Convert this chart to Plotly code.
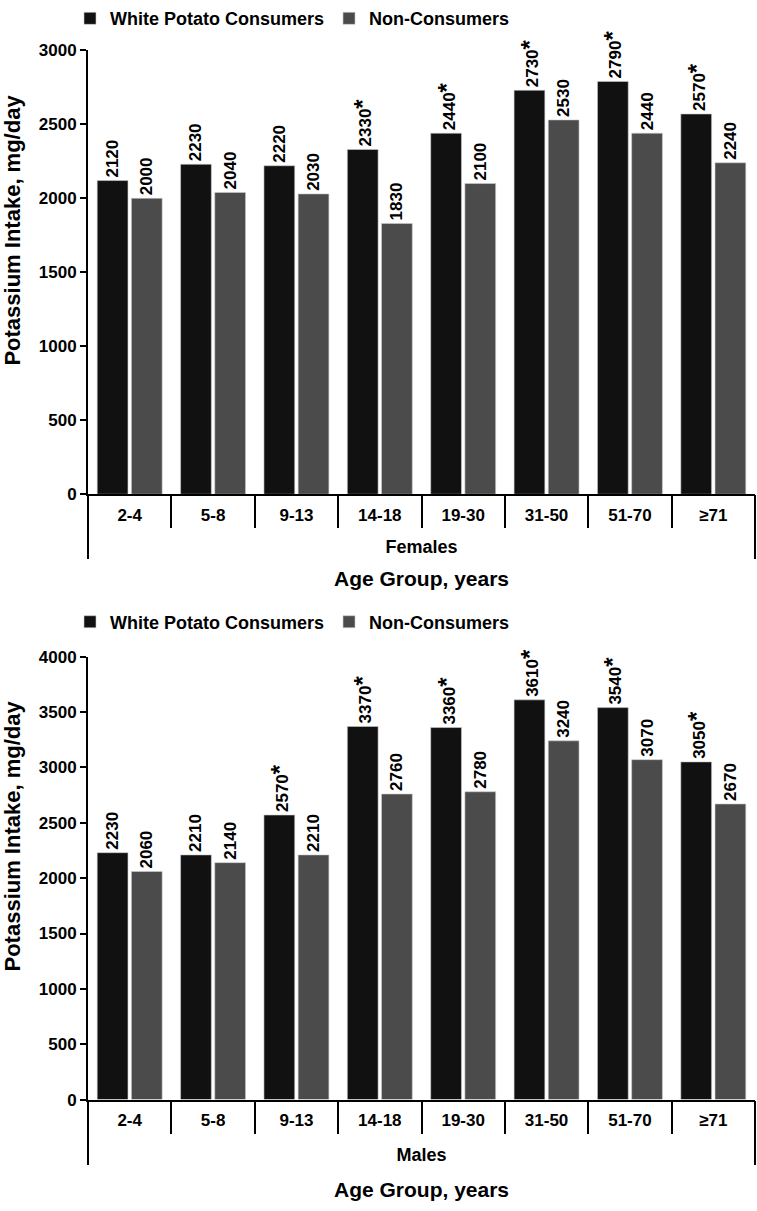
import plotly.graph_objects as go

age_groups = ["2-4", "5-8", "9-13", "14-18", "19-30", "31-50", "51-70", "≥71"]
female_consumers = [2120, 2230, 2220, 2330, 2440, 2730, 2790, 2570]
female_nonconsumers = [2000, 2040, 2030, 1830, 2100, 2530, 2440, 2240]
female_signif = [False, False, False, True, True, True, True, True]
male_consumers = [2230, 2210, 2570, 3370, 3360, 3610, 3540, 3050]
male_nonconsumers = [2060, 2140, 2210, 2760, 2780, 3240, 3070, 2670]
male_signif = [False, False, True, True, True, True, True, True]

FONT = "Liberation Sans, Arial, sans-serif"
C_BLACK = "#111111"
C_GRAY = "#4b4b4b"
NCAT = len(age_groups)


def lab(v, s):
    t = f"{v}"
    if s:
        t += "<span style='font-size:24px'>*</span>"
    return t


fig = go.Figure()

panels = [
    ("Females", female_consumers, female_nonconsumers, female_signif, "x", "y", "legend", "x3"),
    ("Males", male_consumers, male_nonconsumers, male_signif, "x2", "y2", "legend2", "x4"),
]
for sex, cons, non, sig, xa, ya, lg, xo in panels:
    fig.add_trace(go.Bar(
        x=age_groups, y=cons, name="White Potato Consumers", marker_color=C_BLACK,
        marker_line=dict(color="#cccccc", width=0.6),
        text=[lab(v, s) for v, s in zip(cons, sig)], textposition="outside",
        constraintext="none",
        textangle=-90, textfont=dict(family=FONT, size=17, color="black", weight="bold"),
        cliponaxis=False, xaxis=xa, yaxis=ya, legend=lg))
    fig.add_trace(go.Bar(
        x=age_groups, y=non, name="Non-Consumers", marker_color=C_GRAY,
        marker_line=dict(color="#cccccc", width=0.6),
        text=[str(v) for v in non], textposition="outside",
        constraintext="none",
        textangle=-90, textfont=dict(family=FONT, size=17, color="black", weight="bold"),
        cliponaxis=False, xaxis=xa, yaxis=ya, legend=lg))
    # empty helper trace so the overlay axis (long end ticks) gets drawn
    fig.add_trace(go.Scatter(x=[], y=[], xaxis=xo, yaxis=ya, showlegend=False,
                             hoverinfo="skip", mode="markers"))

XDOM = [88 / 757, 755 / 757]


def xmain(sex, anchor, spacing):
    return dict(
        domain=XDOM, anchor=anchor, type="category", range=[-0.5, NCAT - 0.5],
        showline=True, linecolor="black", linewidth=2,
        ticks="outside", tickson="boundaries", ticklen=32, tickwidth=2, tickcolor="black",
        ticklabelstandoff=4,
        tickfont=dict(family=FONT, size=17, color="black", weight="bold"),
        title=dict(text=f"<span style='font-size:18px'>{sex}</span><br>"
                        f"<span style='font-size:21px'>Age Group, years</span>",
                   font=dict(family=FONT, size=spacing, color="black", weight="bold"),
                   standoff=12),
        showgrid=False, zeroline=False,
    )


def xends(over, anchor):
    return dict(
        domain=XDOM, anchor=anchor, overlaying=over, side="bottom", type="linear",
        range=[-0.5, NCAT - 0.5], tickvals=[-0.5, NCAT - 0.5], ticks="outside",
        ticklen=64, tickwidth=2, tickcolor="black", showticklabels=False,
        showline=False, showgrid=False, zeroline=False,
    )


ycommon = dict(
    showline=True, linecolor="black", linewidth=2, ticks="outside", ticklen=6,
    tickwidth=2, tickcolor="black", showgrid=False, zeroline=False,
    tickfont=dict(family=FONT, size=17, color="black", weight="bold"),
    dtick=500,
)

legfont = dict(family=FONT, size=18, color="black", weight="bold")
ytitle = "Potassium Intake, mg/day"
fig.update_layout(
    width=757, height=1211,
    margin=dict(l=0, r=0, t=0, b=0),
    paper_bgcolor="white", plot_bgcolor="white",
    barmode="group", bargap=0.18, bargroupgap=0.1,
    xaxis=xmain("Females", "y", 25),
    xaxis2=xmain("Males", "y2", 28),
    xaxis3=xends("x", "y"),
    xaxis4=xends("x2", "y2"),
    yaxis=dict(domain=[1 - 493 / 1211, 1 - 42 / 1211], anchor="x", range=[0, 3000], **ycommon),
    yaxis2=dict(domain=[1 - 1108 / 1211, 1 - 658 / 1211], anchor="x2", range=[0, 4000], **ycommon),
    legend=dict(orientation="h", x=70 / 757, y=1 + 9 / 1211, xanchor="left", yanchor="top",
                font=legfont, itemwidth=30, tracegroupgap=0, bgcolor="rgba(0,0,0,0)"),
    legend2=dict(orientation="h", x=70 / 757, y=1 - 604 / 1211, xanchor="left", yanchor="top",
                 font=legfont, itemwidth=30, tracegroupgap=0, bgcolor="rgba(0,0,0,0)"),
    annotations=[
        dict(text=ytitle, textangle=-90, xref="paper", x=13 / 757, xanchor="center",
             yref="y domain", y=0.594, yanchor="middle", showarrow=False,
             font=dict(family=FONT, size=22, color="black", weight="bold")),
        dict(text=ytitle, textangle=-90, xref="paper", x=13 / 757, xanchor="center",
             yref="y2 domain", y=0.594, yanchor="middle", showarrow=False,
             font=dict(family=FONT, size=22, color="black", weight="bold")),
    ],
)

fig.write_html("out.html", config={"displayModeBar": False},
               post_script="document.body.style.margin='0';")
